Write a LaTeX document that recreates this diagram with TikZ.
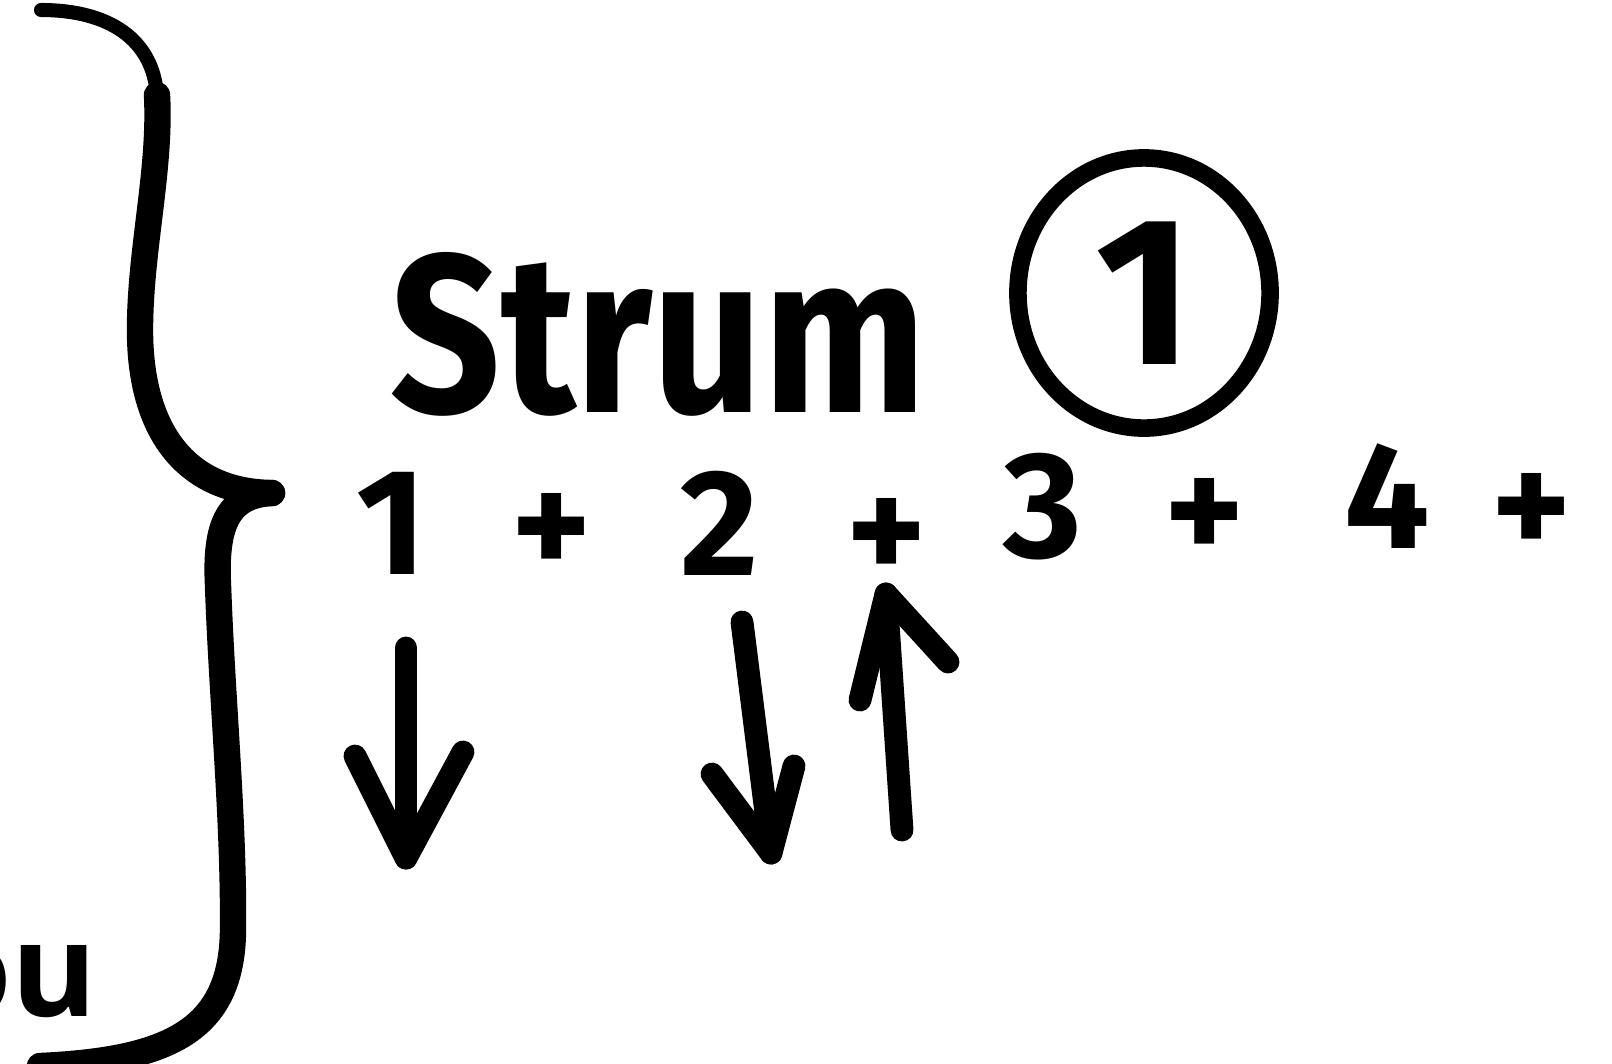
\documentclass[tikz,border=0pt]{standalone}
\usepackage{fontspec}
\usetikzlibrary{shapes.geometric}
\newfontfamily\hand{Fira Sans}
\newfontfamily\printf{Open Sans}
\begin{document}
\begin{tikzpicture}[x=0.01cm,y=-0.01cm,
  bracestroke/.style={line width=7.5pt,line cap=round,line join=round},
  beat/.style={font=\hand\bfseries\fontsize{43}{43}\selectfont,inner sep=0pt},
  arrowstroke/.style={line width=6.5pt,line cap=round,line join=round}]
\useasboundingbox (0,0) rectangle (1612,1063);
% brace
\draw[line width=4pt,line cap=round] (41,10) .. controls (110,10) and (153,40) .. (157,95);
\draw[bracestroke] (157,95) .. controls (161,170) and (140,250) .. (140,330)
  .. controls (140,430) and (185,492) .. (272,493);
\draw[bracestroke] (272,493) .. controls (228,495) and (215,525) .. (218,585)
  .. controls (222,700) and (234,820) .. (233,930)
  .. controls (232,1030) and (170,1060) .. (40,1066);
% partial word
\node[font=\printf\bfseries\fontsize{37}{37}\selectfont,anchor=base east,inner sep=0pt] (ou) at (98,1016) {ou};
% Strum
\node[font=\hand\bfseries\fontsize{66}{66}\selectfont,anchor=base west,inner sep=0pt] (strum) at (390,412) {\resizebox{5.35cm}{1.6cm}{Strum}};
% circled one
\node[draw,ellipse,line width=5pt,minimum width=2.52cm,minimum height=2.7cm,inner sep=0pt] (circ) at (1144,293) {};
\node[font=\hand\bfseries\fontsize{60}{60}\selectfont,inner sep=0pt] (one) at (circ.center) {1};
% count
\node[beat] (b1) at (392,523) {1};
\node[beat] (p1) at (552,535) {+};
\node[beat] (b2) at (720,523) {2};
\node[beat] (p2) at (887,540) {+};
\node[beat] (b3) at (1043,507) {3};
\node[beat] (p3) at (1205,520) {+};
\node[beat] (b4) at (1387,496) {4};
\node[beat] (p4) at (1532,515) {+};
% arrows
\coordinate (a1s) at (406,648); \coordinate (a1e) at (406,858);
\coordinate (a1l) at (355,756); \coordinate (a1r) at (463,752);
\draw[arrowstroke] (a1s) -- (a1e);
\draw[arrowstroke] (a1l) -- (a1e) -- (a1r);
\coordinate (a2s) at (742,622); \coordinate (a2e) at (771,853);
\coordinate (a2l) at (712,774); \coordinate (a2r) at (794,766);
\draw[arrowstroke] (a2s) -- (a2e);
\draw[arrowstroke] (a2l) -- (a2e) -- (a2r);
\coordinate (a3s) at (902,830); \coordinate (a3e) at (886,594);
\coordinate (a3l) at (860,700); \coordinate (a3r) at (948,662);
\draw[arrowstroke] (a3s) -- (a3e);
\draw[arrowstroke] (a3l) -- (a3e) -- (a3r);
\end{tikzpicture}
\end{document}
